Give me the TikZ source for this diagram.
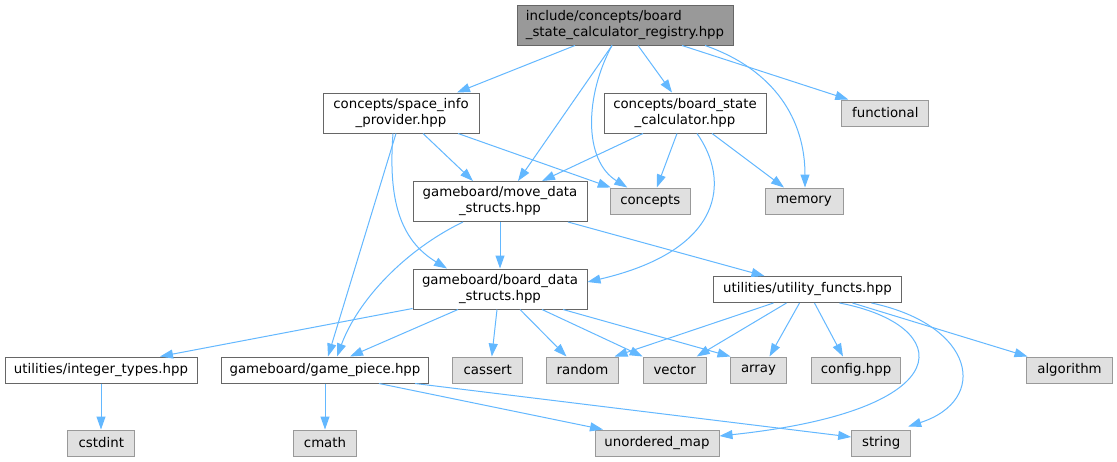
\documentclass[tikz,border=0pt]{standalone}
\usepackage{fontspec}
\setmainfont{DejaVu Sans}
\usetikzlibrary{arrows.meta,calc}
\definecolor{edgec}{HTML}{63B8FF}
\definecolor{rootf}{HTML}{999999}
\definecolor{bord}{HTML}{666666}
\definecolor{extf}{HTML}{E0E0E0}
\definecolor{extb}{HTML}{999999}
\begin{document}
\begin{tikzpicture}[x=1pt,y=-1pt,
  box/.style={draw=bord,fill=white,line width=1pt,inner sep=0pt,font=\fontsize{13.33}{16}\selectfont,align=center,minimum height=26pt},
  tall/.style={minimum height=40pt},
  rootbox/.style={box,tall,fill=rootf,align=left},
  ext/.style={box,draw=extb,fill=extf},
  e/.style={draw=edgec,line width=1pt,-{Triangle[length=13pt,width=9pt]}},
]
\useasboundingbox[fill=white] (0,0) rectangle (1117,461);
% nodes
\node[rootbox,minimum width=216pt] (root) at (625,25) {include/concepts/board\\\_state\_calculator\_registry.hpp};
\node[box,tall,minimum width=156pt] (space) at (401,113) {concepts/space\_info\\\_provider.hpp};
\node[box,tall,minimum width=162pt] (bsc) at (685,113) {concepts/board\_state\\\_calculator.hpp};
\node[ext,minimum width=87pt] (functional) at (885.3,113) {functional};
\node[ext,minimum width=80pt] (concepts) at (650.3,201) {concepts};
\node[ext,minimum width=78pt] (memory) at (804,201) {memory};
\node[box,tall,minimum width=174pt] (move) at (500,201.5) {gameboard/move\_data\\\_structs.hpp};
\node[box,tall,minimum width=174pt] (board) at (500,289) {gameboard/board\_data\\\_structs.hpp};
\node[box,minimum width=188pt] (utility) at (807.5,289.5) {utilities/utility\_functs.hpp};
\node[box,minimum width=192pt] (integer) at (101,370) {utilities/integer\_types.hpp};
\node[box,minimum width=207pt] (game) at (325,370) {gameboard/game\_piece.hpp};
\node[ext,minimum width=70pt] (cassert) at (487.8,370) {cassert};
\node[ext,minimum width=72pt] (random) at (582.5,370) {random};
\node[ext,minimum width=63pt] (vector) at (674.7,370) {vector};
\node[ext,minimum width=56.5pt] (array) at (758.5,370) {array};
\node[ext,minimum width=89.6pt] (config) at (856,370) {config.hpp};
\node[ext,minimum width=85.5pt] (algorithm) at (1069.5,370) {algorithm};
\node[ext,minimum width=67pt] (cstdint) at (101.3,443) {cstdint};
\node[ext,minimum width=63pt] (cmath) at (325,443) {cmath};
\node[ext,minimum width=124pt] (umap) at (657,443) {unordered\_map};
\node[ext,minimum width=59pt] (string) at (881.2,443) {string};
% root edges
\draw[e] ($(root.south)+(-50,0)$) -- ($(space.north)+(56,0)$);
\draw[e] ($(root.south)+(-13,0)$) -- ($(move.north)+(18,0)$);
\draw[e] ($(root.south)+(-13,0)$) .. controls (585,95) and (583,160) .. ($(concepts.north)+(-23,0)$);
\draw[e] ($(root.south)+(13,0)$) -- ($(bsc.north)+(-13,0)$);
\draw[e] ($(root.south)+(57,0)$) -- ($(functional.north)+(-37,0)$);
\draw[e] ($(root.south)+(80,0)$) .. controls (775,70) and (805,120) .. ($(memory.north)+(1,0)$);
% space edges
\draw[e] ($(space.south)+(22,0)$) -- ($(move.north)+(-27,0)$);
\draw[e] ($(space.south)+(57,0)$) -- ($(concepts.north west)+(1,0)$);
\draw[e] ($(space.south)+(-5,0)$) -- ($(game.north)+(3,0)$);
\draw[e] ($(space.south)+(-8,0)$) .. controls (388,200) and (400,240) .. ($(board.north)+(-53,0)$);
% bsc edges
\draw[e] ($(bsc.south)+(-42,0)$) -- ($(move.north)+(42,0)$);
\draw[e] ($(bsc.south)+(-8,0)$) -- ($(concepts.north)+(6.5,0)$);
\draw[e] ($(bsc.south)+(27,0)$) -- ($(memory.north)+(-20,0)$);
\draw[e] ($(bsc.south)+(12,0)$) .. controls (730,180) and (725,250) .. ($(board.east)+(0,-7)$);
% move edges
\draw[e] (move.south) -- (board.north);
\draw[e] ($(move.south)+(-37,0)$) .. controls (405,250) and (358,300) .. ($(game.north)+(12,0)$);
\draw[e] ($(move.south)+(68,0)$) -- ($(utility.north)+(-43,0)$);
% board edges
\draw[e] ($(board.south west)+(0,-1)$) -- ($(integer.north)+(59,0)$);
\draw[e] ($(board.south)+(-42,0)$) -- ($(game.north)+(25,0)$);
\draw[e] ($(board.south)+(-3,0)$) -- ($(cassert.north)+(4,0)$);
\draw[e] ($(board.south)+(20,0)$) -- ($(random.north)+(-16,0)$);
\draw[e] ($(board.south)+(42,0)$) -- ($(vector.north)+(-32,0)$);
\draw[e] ($(board.south)+(63,0)$) -- ($(array.north)+(-28,0)$);
% utility edges
\draw[e] ($(utility.south)+(-34,0)$) -- ($(random.north)+(32,0)$);
\draw[e] ($(utility.south)+(-21,0)$) -- ($(vector.north)+(22,0)$);
\draw[e] ($(utility.south)+(-8,0)$) -- ($(array.north)+(11,0)$);
\draw[e] ($(utility.south)+(7,0)$) -- ($(config.north)+(-13,0)$);
\draw[e] ($(utility.south)+(45,0)$) -- ($(algorithm.north)+(-42,0)$);
\draw[e] ($(utility.south)+(32,0)$) .. controls (955,325) and (965,410) .. ($(umap.east)+(0,-7)$);
\draw[e] ($(utility.south)+(64,0)$) .. controls (975,325) and (990,400) .. ($(string.north east)+(-3,-3)$);
% game edges
\draw[e] (game.south) -- (cmath.north);
\draw[e] ($(game.south)+(54,0)$) -- ($(umap.north)+(-54,0)$);
\draw[e] ($(game.south)+(90,0)$) -- ($(string.west)+(0,-6)$);
% integer edge
\draw[e] (integer.south) -- (integer.south |- cstdint.north);
\end{tikzpicture}
\end{document}
